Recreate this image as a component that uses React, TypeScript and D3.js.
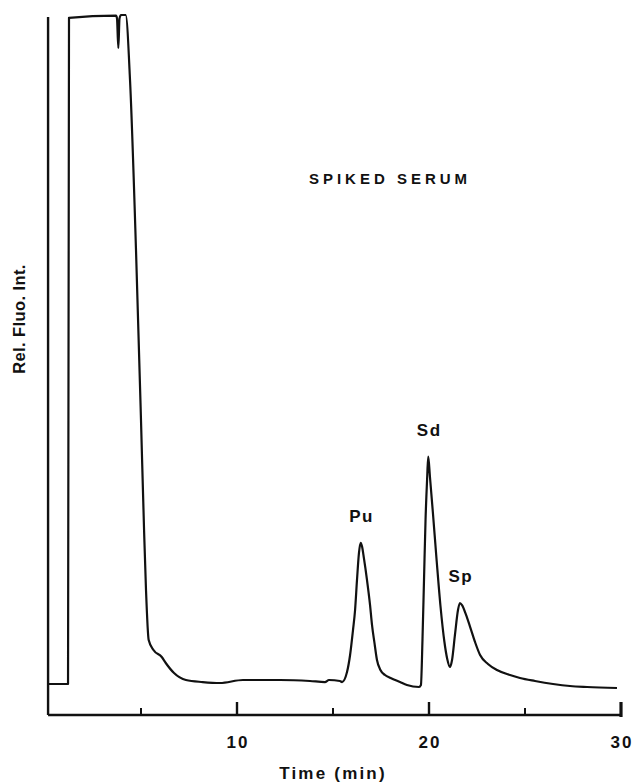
import React from "react";
import * as d3 from "d3";

const W = 639;
const H = 782;

// Chromatogram trace: time (min) and relative fluorescence (0-100)
const traceTime = [
  0.2, 1.2, 1.25, 3.7, 3.75, 3.82, 3.88, 3.96, 4.2, 4.43, 4.74, 5.0, 5.16, 5.26, 5.4, 5.65,
  6.08, 6.29, 6.72, 7.34, 8.21, 9.11, 10.31, 12.24, 13.8, 14.58, 14.79, 15.36, 15.47,
  15.73, 15.89, 16.04, 16.15, 16.25, 16.35, 16.44, 16.51, 16.61, 16.77, 16.93, 17.03, 17.16,
  17.29, 17.47, 17.71, 18.0, 18.49, 18.85, 19.48, 19.58, 19.66, 19.74, 19.82, 19.9, 19.96,
  20.05, 20.2, 20.4, 20.6, 20.8, 20.95, 21.09, 21.2, 21.35, 21.51, 21.61, 21.72,
  21.93, 22.14, 22.4, 22.66, 23.07, 23.54, 24.22, 24.74, 25.52, 26.46, 27.34, 28.23, 29.79,
];
const traceValue = [
  4.43, 4.43, 99.6, 99.9, 99.5, 95.3, 99.5, 100, 100, 90.6, 66.4, 42.1, 26.4, 17.9, 10.7, 9.29,
  8.29, 7.43, 6.0, 5.0, 4.71, 4.57, 5.0, 5.0, 4.86, 4.71, 5.0, 4.86, 4.71,
  6.14, 8.57, 12.1, 15.0, 19.3, 23.1, 24.6, 24.1, 22.4, 19.3, 15.7, 12.9, 10.3,
  7.86, 6.43, 5.71, 5.29, 4.71, 4.29, 4.0, 4.29, 10.7, 19.3, 27.9, 33.6, 36.9,
  34.0, 29.0, 22.0, 15.5, 10.5, 8.0, 6.86, 7.86, 11.4, 15.0, 16.0, 15.7,
  14.3, 12.6, 10.4, 8.57, 7.29, 6.43, 5.71, 5.29, 4.86, 4.43, 4.14, 4.0, 3.86,
];

const majorTicks = [10, 20, 30];
const minorTicks = [5, 15, 25];

const peakNames = ["Pu", "Sd", "Sp"];
const peakTimes = [16.44, 19.96, 21.61];
const peakValues = [24.6, 36.9, 16.0];

const xDomain = [0, 30];
const yDomain = [0, 100];
const axisStart = 0.16;

export default function App() {
  const x = d3.scaleLinear().domain(xDomain).range([45, 621]);
  const y = d3.scaleLinear().domain(yDomain).range([715, 15]);

  const pts = traceTime.map((t, i) => [t, traceValue[i]] as [number, number]);
  const line = d3
    .line<[number, number]>()
    .x((d) => x(d[0]))
    .y((d) => y(d[1]))
    .curve(d3.curveMonotoneX);

  const x0 = x(axisStart);
  const yAxisY = y(0);
  const ink = "#111";
  const font = "'Liberation Sans', Arial, Helvetica, sans-serif";

  return (
    <svg
      width={W}
      height={H}
      viewBox={`0 0 ${W} ${H}`}
      style={{ position: "absolute", left: 0, top: 0, background: "#fff" }}
    >
      <rect width={W} height={H} fill="#fff" />
      {/* axes */}
      <line x1={x0} y1={yAxisY} x2={x0} y2={y(99.7)} stroke={ink} strokeWidth={2.4} />
      <line x1={x0} y1={yAxisY} x2={x(30)} y2={yAxisY} stroke={ink} strokeWidth={2.4} />
      {majorTicks.map((t) => (
        <line key={"M" + t} x1={x(t)} x2={x(t)} y1={yAxisY + (t === 30 ? 2 : 0)} y2={yAxisY - 13} stroke={ink} strokeWidth={t === 30 ? 3.2 : 2.4} />
      ))}
      {minorTicks.map((t) => (
        <line key={"m" + t} x1={x(t)} x2={x(t)} y1={yAxisY} y2={yAxisY - 7} stroke={ink} strokeWidth={2} />
      ))}
      {majorTicks.map((t) => (
        <text
          key={"L" + t}
          x={x(t) + 1}
          y={yAxisY + 33}
          textAnchor="middle"
          fontFamily={font}
          fontWeight="bold"
          fontSize={17}
          letterSpacing={2}
          fill={ink}
        >
          {t}
        </text>
      ))}
      <text
        x={333}
        y={yAxisY + 64}
        textAnchor="middle"
        fontFamily={font}
        fontWeight="bold"
        fontSize={17}
        letterSpacing={2.2}
        fill={ink}
      >
        Time (min)
      </text>
      <text
        transform={`translate(25, 319) rotate(-90)`}
        textAnchor="middle"
        fontFamily={font}
        fontWeight="bold"
        fontSize={16.5}
        letterSpacing={0.4}
        fill={ink}
      >
        Rel. Fluo. Int.
      </text>
      <text
        x={390}
        y={184}
        textAnchor="middle"
        fontFamily={font}
        fontWeight="bold"
        fontSize={15}
        letterSpacing={4}
        fill={ink}
      >
        SPIKED SERUM
      </text>
      {/* trace */}
      <path d={line(pts) || ""} fill="none" stroke={ink} strokeWidth={2.2} strokeLinejoin="round" />
      {peakNames.map((n, i) => (
        <text
          key={n}
          x={x(peakTimes[i]) + 1}
          y={y(peakValues[i]) - 21}
          textAnchor="middle"
          fontFamily={font}
          fontWeight="bold"
          fontSize={17}
          letterSpacing={1.5}
          fill={ink}
        >
          {n}
        </text>
      ))}
    </svg>
  );
}
